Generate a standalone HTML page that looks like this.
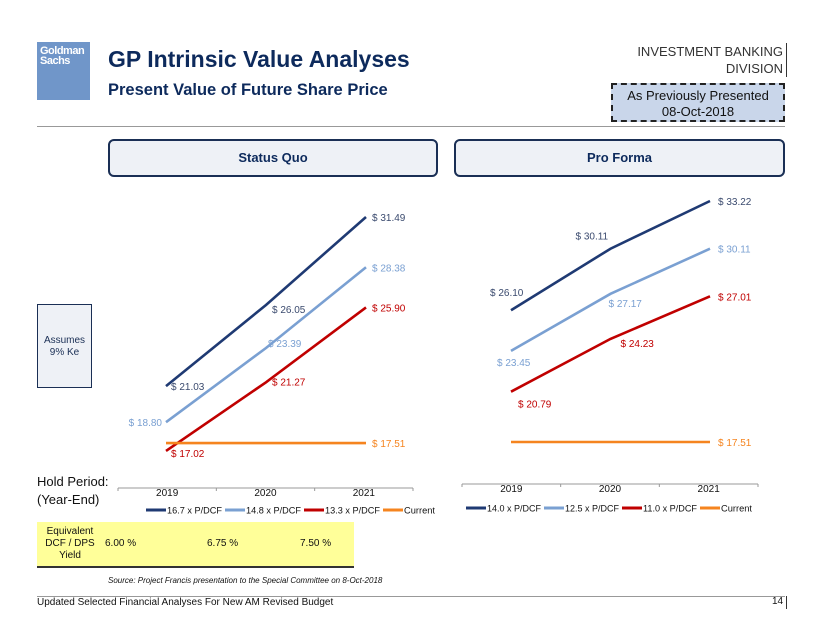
<!DOCTYPE html>
<html><head><meta charset="utf-8"><style>
body{margin:0;width:822px;height:635px;background:#fff;font-family:"Liberation Sans",sans-serif;position:relative;overflow:hidden}
.a{position:absolute}
</style></head><body>
<div class="a" style="left:37px;top:42px;width:53px;height:58px;background:#7096c9;color:#fff;font-size:11px;font-weight:bold;line-height:10px;padding:4px 0 0 3px;box-sizing:border-box;letter-spacing:-0.5px">Goldman<br>Sachs</div>
<div class="a" style="left:108px;top:46px;font-size:23px;font-weight:bold;color:#0d2a5c">GP Intrinsic Value Analyses</div>
<div class="a" style="left:108px;top:81px;font-size:16.5px;font-weight:bold;color:#0d2a5c">Present Value of Future Share Price</div>
<div class="a" style="right:35px;top:43px;text-align:right;font-size:13px;color:#333;line-height:17px;border-right:1px solid #333;padding-right:3px">INVESTMENT BANKING<br>DIVISION</div>
<div class="a" style="left:611px;top:83px;width:174px;height:39px;box-sizing:border-box;background:#c9d6ea;border:2px dashed #222;text-align:center;font-size:13px;line-height:16px;padding-top:3px;color:#111">As Previously Presented<br>08-Oct-2018</div>
<div class="a" style="left:37px;top:126px;width:748px;height:1px;background:#999"></div>
<div class="a" style="left:108px;top:139px;width:330px;height:38px;box-sizing:border-box;border:2px solid #1a2f55;border-radius:6px;background:#eef1f6;text-align:center;line-height:34px;font-size:13px;font-weight:bold;color:#0d2a5c">Status Quo</div>
<div class="a" style="left:454px;top:139px;width:331px;height:38px;box-sizing:border-box;border:2px solid #1a2f55;border-radius:6px;background:#eef1f6;text-align:center;line-height:34px;font-size:13px;font-weight:bold;color:#0d2a5c">Pro Forma</div>
<div class="a" style="left:37px;top:304px;width:55px;height:84px;box-sizing:border-box;border:1px solid #1a2f55;background:#eef1f6;text-align:center;font-size:10px;color:#1a2f55;padding-top:30px;line-height:12px">Assumes<br>9% Ke</div>
<div class="a" style="left:37px;top:473px;font-size:13px;line-height:18px;color:#111">Hold Period:<br>(Year-End)</div>
<div class="a" style="left:37px;top:522px;width:317px;height:44px;background:#ffff99;border-bottom:2px solid #333;font-size:10px;color:#111">
<div class="a" style="left:0;top:4px;width:66px;text-align:center;line-height:12px">Equivalent<br>DCF / DPS<br>Yield</div>
<div class="a" style="left:68px;top:16px">6.00 %</div>
<div class="a" style="left:170px;top:16px">6.75 %</div>
<div class="a" style="left:263px;top:16px">7.50 %</div>
</div>
<div class="a" style="left:108px;top:576px;font-size:8px;font-style:italic;color:#111">Source: Project Francis presentation to the Special Committee on 8-Oct-2018</div>
<div class="a" style="left:37px;top:596px;width:748px;height:1px;background:#999"></div>
<div class="a" style="left:37px;top:597px;font-size:10px;color:#111">Updated Selected Financial Analyses For New AM Revised Budget</div>
<div class="a" style="left:772px;top:596px;font-size:10px;color:#111;border-right:1px solid #333;padding-right:3px;height:13px">14</div>
<svg id="chart" class="a" style="left:0;top:0" width="822" height="635"></svg>
<script>
const years = ["2019","2020","2021"];
const sqNames = ["16.7 x P/DCF","14.8 x P/DCF","13.3 x P/DCF","Current"];
const sqS1 = [21.03,26.05,31.49];
const sqS2 = [18.80,23.39,28.38];
const sqS3 = [17.02,21.27,25.90];
const sqCur = [17.51,17.51,17.51];
const pfNames = ["14.0 x P/DCF","12.5 x P/DCF","11.0 x P/DCF","Current"];
const pfS1 = [26.10,30.11,33.22];
const pfS2 = [23.45,27.17,30.11];
const pfS3 = [20.79,24.23,27.01];
const pfCur = [17.51,17.51,17.51];
const colors = ["#1f3a73","#7aa0d2","#c00000","#f5841f"];
const NS="http://www.w3.org/2000/svg";
const svg=document.getElementById('chart');
function mk(t,a){const e=document.createElementNS(NS,t);for(const k in a)e.setAttribute(k,a[k]);svg.appendChild(e);return e;}
function chart(p){
  const x=i=>p.x0+i*p.dx, y=v=>p.y0-v*p.k;
  const ax=mk('line',{x1:p.ax0,x2:p.ax1,y1:p.ay,y2:p.ay,stroke:'#999','stroke-width':1});
  
  
  for(let i=0;i<=3;i++){const tx=p.ax0+i*(p.ax1-p.ax0)/3;mk('line',{x1:tx,x2:tx,y1:p.ay,y2:p.ay+3,stroke:'#999'});}
  years.forEach((yr,i)=>{const t=mk('text',{x:p.ax0+(i+0.5)*(p.ax1-p.ax0)/3,y:p.ay+8,'font-size':10,'text-anchor':'middle',fill:'#111'});t.textContent=yr;
    
    });
  p.series.forEach((s,si)=>{
    const pl=mk('polyline',{points:s.map((v,i)=>x(i)+','+y(v)).join(' '),fill:'none',stroke:colors[si],'stroke-width':2.6});
    
    
    s.forEach((v,i)=>{
      if(si==3&&i<2)return;
      const o=p.off[si][i];
      const t=mk('text',{x:x(i)+o[0],y:y(v)+o[1],'font-size':10,fill:si==0?'#3a4a6e':colors[si],'text-anchor':o[2]||'start'});
      t.textContent='$ '+v.toFixed(2);
      
      
    });
  });
  let lx=p.lx;
  p.names.forEach((n,si)=>{
    const l=mk('line',{x1:lx,x2:lx+20,y1:p.ly,y2:p.ly,stroke:colors[si],'stroke-width':3});
    
    
    const t=mk('text',{x:lx+21,y:p.ly+3.5,'font-size':9,fill:'#111','textLength':p.tl[si],'lengthAdjust':'spacingAndGlyphs'});t.textContent=n;
    
    
    lx+=21+p.tl[si]+3;
  });
}
chart({id:'status-quo',x0:166,dx:100,y0:726.2,k:16.17,ax0:118,ax1:413,ay:488,lx:146,ly:510,names:sqNames,tl:[55,55,55,31],
  series:[sqS1,sqS2,sqS3,sqCur],
  off:[[[5,4],[6,8],[6,4]],[[-4,4,'end'],[2,-1],[6,4]],[[5,6],[6,3],[6,4]],[[0,0],[0,0],[6,4]]]});
chart({id:'pro-forma',x0:511,dx:99.5,y0:710.6,k:15.34,ax0:462,ax1:758,ay:484,lx:466,ly:508,names:pfNames,tl:[54,54,54,31],
  series:[pfS1,pfS2,pfS3,pfCur],
  off:[[[-21,-14],[-35,-9],[8,4]],[[-14,15],[-2,13],[8,4]],[[7,16],[10,8],[8,4]],[[0,0],[0,0],[8,4]]]});
</script>
</body></html>
